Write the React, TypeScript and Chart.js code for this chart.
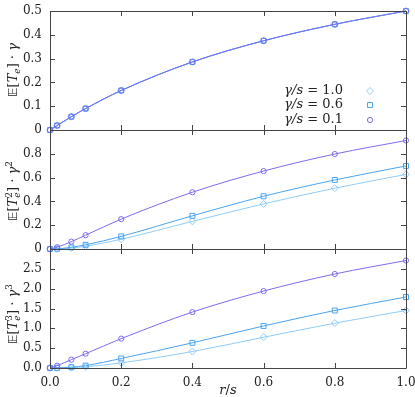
import React, { useEffect, useRef } from "react";
import { Chart, registerables } from "chart.js";
import { drawPoint } from "chart.js/helpers";

Chart.register(...registerables);

const xValues = [0, 0.02, 0.06, 0.1, 0.2, 0.4, 0.6, 0.8, 1.0];

// panel 1: E[T_e]·γ (all three γ/s coincide)
const p1_g10 = [0, 0.019, 0.056, 0.090, 0.166, 0.286, 0.375, 0.444, 0.5];
const p1_g06 = [0, 0.019, 0.056, 0.090, 0.166, 0.286, 0.375, 0.444, 0.5];
const p1_g01 = [0, 0.019, 0.056, 0.090, 0.166, 0.286, 0.375, 0.444, 0.5];

// panel 2: E[T_e^2]·γ^2
const p2_g10 = [0, 0.001, 0.008, 0.023, 0.082, 0.232, 0.379, 0.511, 0.627];
const p2_g06 = [0, 0.002, 0.014, 0.035, 0.106, 0.279, 0.443, 0.580, 0.698];
const p2_g01 = [0, 0.015, 0.062, 0.116, 0.251, 0.477, 0.655, 0.798, 0.912];

// panel 3: E[T_e^3]·γ^3
const p3_g10 = [0, 0.001, 0.010, 0.030, 0.130, 0.415, 0.775, 1.13, 1.45];
const p3_g06 = [0, 0.002, 0.020, 0.060, 0.240, 0.635, 1.06, 1.45, 1.79];
const p3_g01 = [0, 0.06, 0.21, 0.36, 0.74, 1.41, 1.94, 2.37, 2.71];

const seriesLabels = ["γ/s = 1.0", "γ/s = 0.6", "γ/s = 0.1"];
const seriesValues = ["1.0", "0.6", "0.1"];
const xTicks = [0, 0.2, 0.4, 0.6, 0.8, 1.0];
const xTitle = "r/s";
const yPowers = ["", "2", "3"];

const colors = ["#8fcdf8", "#4aa3f2", "#7b6cf0"];
const styles = ["rectRot", "rect", "circle"];
const radii = [3.5, 3.5, 2.6];

const FONT = "'DejaVu Serif', 'Liberation Serif', serif";
const FRAME = "#444444";
const TEXT = "#222222";

const panels = [
  { data: [p1_g10, p1_g06, p1_g01], min: 0, max: 0.5, step: 0.1, top: 11, bottom: 130, titleY: 70, fmt: (v: number) => (Math.abs(v) < 1e-9 ? "0" : v.toFixed(1)), showX: false, legend: true },
  { data: [p2_g10, p2_g06, p2_g01], min: 0, max: 1.0, step: 0.2, top: 130, bottom: 249, titleY: 191, fmt: (v: number) => (Math.abs(v) < 1e-9 ? "0" : v > 0.99 ? "" : v.toFixed(1)), showX: false, legend: false },
  { data: [p3_g10, p3_g06, p3_g01], min: 0, max: 3.0, step: 0.5, top: 249, bottom: 368, titleY: 314, fmt: (v: number) => (v > 2.99 ? "" : v.toFixed(1)), showX: true, legend: false },
];

type Piece = { t: string; f: string; dy: number; sub?: boolean; sup?: boolean };

function drawRich(ctx: CanvasRenderingContext2D, pieces: Piece[], cx: number, cy: number, rotate: boolean) {
  ctx.save();
  ctx.translate(cx, cy);
  if (rotate) ctx.rotate(-Math.PI / 2);
  ctx.textBaseline = "alphabetic";
  ctx.textAlign = "left";
  ctx.fillStyle = TEXT;
  const widths: number[] = [];
  pieces.forEach((p) => {
    ctx.font = p.f;
    widths.push(ctx.measureText(p.t).width);
  });
  const xs: number[] = [];
  let x = 0;
  for (let i = 0; i < pieces.length; i++) {
    const p = pieces[i];
    const prev = pieces[i - 1];
    if (prev && ((p.sub && prev.sup) || (p.sup && prev.sub))) {
      xs.push(xs[i - 1]);
      x = Math.max(x, xs[i - 1] + widths[i]);
    } else {
      xs.push(x);
      x += widths[i];
    }
  }
  const startX = -x / 2;
  pieces.forEach((p, i) => {
    ctx.font = p.f;
    ctx.fillText(p.t, startX + xs[i], p.dy + 4.5);
  });
  ctx.restore();
}

function yTitlePieces(pw: string): Piece[] {
  const n = "13px " + FONT;
  const it = "italic 13px " + FONT;
  const sm = "9px " + FONT;
  const smi = "italic 9px " + FONT;
  const out: Piece[] = [
    { t: "𝔼", f: "13px 'DejaVu Sans', sans-serif", dy: 0 },
    { t: "[", f: n, dy: 0 },
    { t: "T", f: it, dy: 0 },
  ];
  if (pw) out.push({ t: pw, f: sm, dy: -5, sup: true });
  out.push({ t: "e", f: smi, dy: 3, sub: true });
  out.push({ t: "] · ", f: n, dy: 0 });
  out.push({ t: "γ", f: it, dy: 0 });
  if (pw) out.push({ t: pw, f: sm, dy: -5, sup: true });
  return out;
}

const framePlugin = {
  id: "frame",
  afterDraw(chart: any, _args: any, opts: any) {
    const { ctx, chartArea } = chart;
    const { left, right, top, bottom } = chartArea;
    const xs = chart.scales.x;
    const ys = chart.scales.y;
    ctx.save();
    ctx.strokeStyle = FRAME;
    ctx.lineWidth = 1;
    ctx.beginPath();
    ctx.rect(Math.round(left) + 0.5, Math.round(top) + 0.5, Math.round(right - left), Math.round(bottom - top));
    ctx.stroke();
    const tl = 5;
    ctx.beginPath();
    for (const t of xTicks) {
      const px = Math.round(xs.getPixelForValue(t)) + 0.5;
      ctx.moveTo(px, top);
      ctx.lineTo(px, top + tl);
      ctx.moveTo(px, bottom);
      ctx.lineTo(px, bottom - tl);
    }
    for (const tk of ys.ticks) {
      const py = Math.round(ys.getPixelForValue(tk.value)) + 0.5;
      ctx.moveTo(left, py);
      ctx.lineTo(left + tl, py);
      ctx.moveTo(right, py);
      ctx.lineTo(right - tl, py);
    }
    ctx.stroke();

    drawRich(ctx, yTitlePieces(opts.power), 12, opts.titleY, true);

    if (opts.showX) {
      const a = xTitle.split("/");
      drawRich(
        ctx,
        [
          { t: a[0], f: "italic 13px " + FONT, dy: 0 },
          { t: "/", f: "13px " + FONT, dy: 0 },
          { t: a[1], f: "italic 13px " + FONT, dy: 0 },
        ],
        (left + right) / 2,
        389,
        false
      );
    }

    if (opts.legend) {
      const rows = [91, 105, 120];
      const textRight = 343;
      const markerX = 370;
      ctx.textBaseline = "middle";
      rows.forEach((ry, i) => {
        const italic = "italic 13px " + FONT;
        const normal = "13px " + FONT;
        const a = "γ/s";
        const b = " = " + seriesValues[i];
        ctx.font = italic;
        const wa = ctx.measureText(a).width;
        ctx.font = normal;
        const wb = ctx.measureText(b).width;
        const x0 = textRight - wa - wb;
        ctx.font = italic;
        ctx.textAlign = "left";
        ctx.fillStyle = TEXT;
        ctx.fillText(a, x0, ry);
        ctx.font = normal;
        ctx.fillText(b, x0 + wa, ry);
        ctx.strokeStyle = colors[i];
        ctx.fillStyle = "rgba(0,0,0,0)";
        ctx.lineWidth = 1;
        drawPoint(ctx, { pointStyle: styles[i], radius: radii[i], borderWidth: 1, rotation: 0 } as any, markerX, ry);
      });
    }
    ctx.restore();
  },
};

function Panel({ idx }: { idx: number }) {
  const ref = useRef<HTMLCanvasElement | null>(null);
  useEffect(() => {
    const p = panels[idx];
    const datasets = [2, 1, 0].map((i) => ({
      label: seriesLabels[i],
      data: xValues.map((x, k) => ({ x, y: p.data[i][k] })),
      borderColor: colors[i],
      backgroundColor: "transparent",
      borderWidth: 1,
      pointStyle: styles[i],
      pointRadius: radii[i],
      pointBorderWidth: 1,
      pointBorderColor: colors[i],
      pointBackgroundColor: "transparent",
      cubicInterpolationMode: "monotone",
      fill: false,
      clip: false,
    }));
    Chart.defaults.font.family = FONT;
    Chart.defaults.color = TEXT;
    const chart = new Chart(ref.current as HTMLCanvasElement, {
      type: "line",
      data: { datasets } as any,
      plugins: [framePlugin],
      options: {
        animation: false,
        responsive: false,
        devicePixelRatio: 1,
        events: [],
        layout: { padding: { left: 0, right: 9, top: p.top, bottom: p.showX ? 0 : 397 - p.bottom } },
        plugins: {
          legend: { display: false },
          tooltip: { enabled: false },
          frame: { legend: p.legend, showX: p.showX, titleY: p.titleY, power: yPowers[idx] },
        } as any,
        scales: {
          x: {
            type: "linear",
            min: 0,
            max: 1,
            display: p.showX,
            grid: { display: false, drawTicks: false },
            border: { display: false },
            ticks: { stepSize: 0.2, padding: 8, font: { size: 12, family: FONT }, color: TEXT, maxRotation: 0, callback: (v: any) => Number(v).toFixed(1) },
            title: { display: false },
            afterFit: (s: any) => {
              s.paddingLeft = 0;
              s.paddingRight = 0;
              if (p.showX) s.height = 397 - p.bottom;
            },
          },
          y: {
            type: "linear",
            min: p.min,
            max: p.max,
            grid: { display: false, drawTicks: false },
            border: { display: false },
            ticks: { stepSize: p.step, padding: 8, font: { size: 12, family: FONT }, color: TEXT, callback: (v: any) => p.fmt(Number(v)) },
            title: { display: false },
            afterFit: (s: any) => { s.width = 50; s.paddingTop = 0; s.paddingBottom = 0; },
          },
        },
      } as any,
    });
    return () => chart.destroy();
  }, [idx]);
  return (
    <canvas
      ref={ref}
      width={415}
      height={397}
      style={{ position: "absolute", left: 0, top: 0, width: 415, height: 397 }}
    />
  );
}

export default function App() {
  return (
    <div style={{ position: "fixed", left: 0, top: 0, width: 415, height: 397, background: "#fff" }}>
      <Panel idx={0} />
      <Panel idx={1} />
      <Panel idx={2} />
    </div>
  );
}
